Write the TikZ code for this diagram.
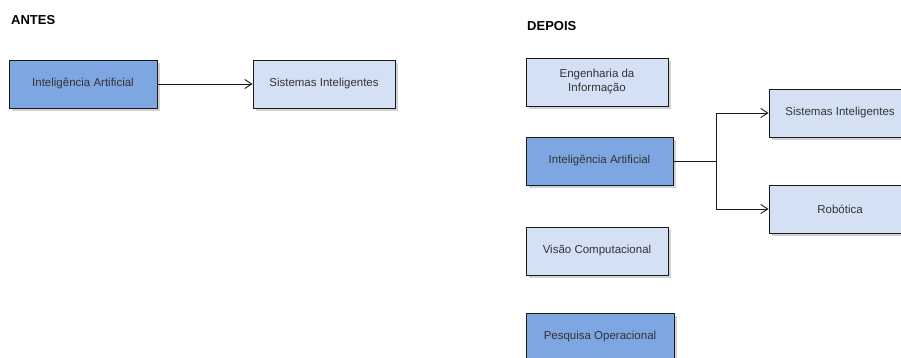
\documentclass[tikz,border=0pt]{standalone}
\usepackage{fontspec}
\setmainfont{Liberation Sans}
\usetikzlibrary{arrows.meta,shadows,fadings}
\definecolor{darkfill}{HTML}{7EA6E0}
\definecolor{lightfill}{HTML}{D4E1F5}
\definecolor{txt}{HTML}{333333}
\definecolor{edge}{HTML}{1A1A1A}
\tikzset{
  box/.style={draw=edge, line width=0.9pt, minimum height=48pt, text=txt,
    font=\fontsize{11.5}{14}\selectfont, align=center, inner sep=2pt,
    drop shadow={shadow xshift=2.5pt, shadow yshift=-3pt, opacity=0.35, fill=gray}},
  dark/.style={box, fill=darkfill},
  light/.style={box, fill=lightfill},
  title/.style={font=\bfseries\fontsize{13}{15}\selectfont, text=black, anchor=base west, inner sep=0pt},
  link/.style={draw=edge, line width=0.9pt, -{Straight Barb[length=7pt,width=9pt]}}
}
\begin{document}
\begin{tikzpicture}[x=1pt, y=-1pt]
  \useasboundingbox (0,0) rectangle (901,358);
  \clip (0,0) rectangle (901,358);
  \fill[white] (0,0) rectangle (901,358);

  % before
  \node[title] (antes) at (11,25) {ANTES};
  \node[dark, minimum width=148pt] (ia1) at (83,84) {Inteligência Artificial};
  \node[light, minimum width=142pt] (si1) at (324,84) {Sistemas Inteligentes};
  \draw[link] (ia1.east) -- (si1.west);

  % after
  \node[title] (depois) at (527,31) {DEPOIS};
  \node[light, minimum width=142pt] (eng) at (597,82) {Engenharia da\\Informação};
  \node[dark, minimum width=147pt] (ia2) at (599.5,161) {Inteligência Artificial};
  \node[light, minimum width=142pt] (vis) at (597,251) {Visão Computacional};
  \node[dark, minimum width=148pt] (pes) at (600,337) {Pesquisa Operacional};
  \node[light, minimum width=142pt] (si2) at (840,113) {Sistemas Inteligentes};
  \node[light, minimum width=142pt] (rob) at (840,209) {Robótica};

  \coordinate (br) at (716,161);
  \draw[draw=edge, line width=0.9pt] (ia2.east) -- (br);
  \draw[link] (br) |- (si2.west);
  \draw[link] (br) |- (rob.west);
\end{tikzpicture}
\end{document}
